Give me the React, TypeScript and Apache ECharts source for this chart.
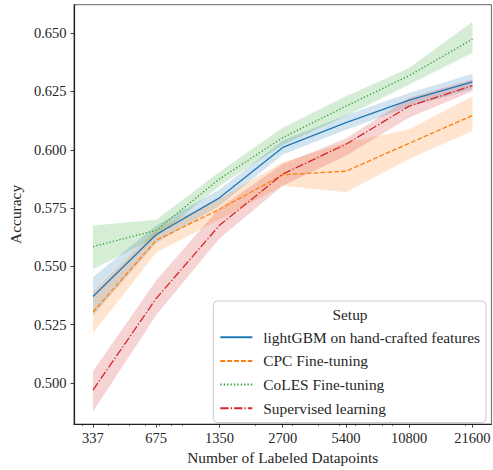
import React, { useEffect, useRef } from "react";
import * as echarts from "echarts";

const datapoints = [337.5, 675, 1350, 2700, 5400, 10800, 21600];
const tickLabels = ["337", "675", "1350", "2700", "5400", "10800", "21600"];
const minorTickValues = [300, 400, 500, 600, 700, 800, 900, 2000, 3000, 4000, 5000, 6000, 7000, 8000, 9000, 20000];
const yTickValues = [0.5, 0.525, 0.55, 0.575, 0.6, 0.625, 0.65];

const seriesNames = [
  "lightGBM on hand-crafted features",
  "CPC Fine-tuning",
  "CoLES Fine-tuning",
  "Supervised learning",
];

const lightgbmMean = [0.5371, 0.5637, 0.5794, 0.601, 0.6116, 0.6213, 0.6291];
const lightgbmUpper = [0.5455, 0.5675, 0.5830, 0.6040, 0.6148, 0.6243, 0.6326];
const lightgbmLower = [0.5290, 0.5600, 0.5760, 0.5980, 0.6086, 0.6185, 0.6260];

const cpcMean = [0.5304, 0.5612, 0.5745, 0.5893, 0.5908, 0.6028, 0.6147];
const cpcUpper = [0.5390, 0.5660, 0.5790, 0.5947, 0.6030, 0.6088, 0.6230];
const cpcLower = [0.5214, 0.5560, 0.5700, 0.5846, 0.5818, 0.5960, 0.6081];

const colesMean = [0.5585, 0.5655, 0.5875, 0.6052, 0.6187, 0.6318, 0.6474];
const colesUpper = [0.5675, 0.5700, 0.5905, 0.6095, 0.6230, 0.6351, 0.6549];
const colesLower = [0.5488, 0.5625, 0.5845, 0.6020, 0.6145, 0.6280, 0.6415];

const supMean = [0.497, 0.5363, 0.5676, 0.5896, 0.6024, 0.6187, 0.6275];
const supUpper = [0.5051, 0.5441, 0.5750, 0.5939, 0.6048, 0.6223, 0.6301];
const supLower = [0.4878, 0.5292, 0.5620, 0.5846, 0.5974, 0.6138, 0.6251];

const BASE = 337.5;
const FONT = "Liberation Serif";
const TEXT_COLOR = "#262626";

export default function App() {
  const ref = useRef<HTMLDivElement>(null);

  useEffect(() => {
    document.body.style.margin = "0";
    if (!ref.current) return;
    const chart = echarts.init(ref.current, undefined, { renderer: "svg" });

    const xs = datapoints.map((n) => Math.log2(n / BASE));
    const minorXs = minorTickValues.map((n) => Math.log2(n / BASE));
    const majorXs = datapoints.map((n) => Math.log2(n / BASE));

    const colors = ["#1f77b4", "#ff7f0e", "#2ca02c", "#d62728"];
    const means = [lightgbmMean, cpcMean, colesMean, supMean];
    const uppers = [lightgbmUpper, cpcUpper, colesUpper, supUpper];
    const lowers = [lightgbmLower, cpcLower, colesLower, supLower];
    const lw = 1.3;
    const lineTypes: any[] = [
      "solid",
      [4.8, 2.1],
      [1.3, 2.1],
      [8.3, 2.1, 1.3, 2.1],
    ];

    const bandSeries = colors.map((c, k) => ({
      type: "custom",
      name: "band" + k,
      silent: true,
      z: 1,
      data: [0],
      renderItem: (params: any, api: any) => {
        const up = uppers[k].map((u, i) => api.coord([xs[i], u]));
        const lo = lowers[k].map((l, i) => api.coord([xs[i], l])).reverse();
        return {
          type: "polygon",
          shape: { points: up.concat(lo) },
          style: { fill: c, opacity: 0.2 },
        };
      },
    }));

    const lineSeries = colors.map((c, k) => ({
      type: "line",
      name: seriesNames[k],
      z: 3,
      symbol: "none",
      data: means[k].map((m, i) => [xs[i], m]),
      lineStyle: { color: c, width: lw, type: lineTypes[k] },
      itemStyle: { color: c },
    }));

    const tickText = { fontFamily: FONT, fontSize: 14.5, color: TEXT_COLOR };
    const nameText = { fontFamily: FONT, fontSize: 15.4, color: TEXT_COLOR };

    chart.setOption({
      animation: false,
      grid: {
        left: 61.3,
        top: 4.7,
        width: 433.4,
        height: 422,
        show: true,
        borderColor: "#666",
        borderWidth: 1,
        backgroundColor: "transparent",
      },
      xAxis: [
        {
          type: "value",
          min: -0.3,
          max: 6.3,
          position: "bottom",
          axisLine: { show: true, onZero: false, lineStyle: { color: "#222", width: 1.2 } },
          axisTick: { show: true, customValues: majorXs, length: 3.5, lineStyle: { color: TEXT_COLOR, width: 0.9 } },
          axisLabel: {
            customValues: majorXs,
            formatter: (v: number) => tickLabels[Math.round(v)],
            margin: 6,
            ...tickText,
          },
          splitLine: { show: false },
          name: "Number of Labeled Datapoints",
          nameLocation: "middle",
          nameGap: 20,
          nameTextStyle: nameText,
        },
        {
          type: "value",
          min: -0.3,
          max: 6.3,
          position: "bottom",
          offset: 0,
          axisLine: { show: false },
          axisTick: { show: true, customValues: minorXs, length: 2, lineStyle: { color: TEXT_COLOR, width: 0.7 } },
          axisLabel: { show: false },
          splitLine: { show: false },
        },
      ],
      yAxis: {
        type: "value",
        min: 0.4824,
        max: 0.6622,
        axisLine: { show: true, onZero: false, lineStyle: { color: "#222", width: 1.2 } },
        axisTick: { show: true, customValues: yTickValues, length: 3.5, lineStyle: { color: TEXT_COLOR, width: 0.9 } },
        axisLabel: {
          customValues: yTickValues,
          formatter: (v: number) => v.toFixed(3),
          margin: 7.5,
          ...tickText,
        },
        splitLine: { show: false },
        name: "Accuracy",
        nameLocation: "middle",
        nameRotate: 90,
        nameGap: 43,
        nameTextStyle: nameText,
      },
      legend: {
        data: seriesNames,
        orient: "vertical",
        left: 213.3,
        top: 301,
        itemWidth: 32,
        itemHeight: 14,
        itemGap: 8.7,
        padding: [28.7, 6, 6.7, 6],
        backgroundColor: "rgba(255,255,255,0.8)",
        borderColor: "#cccccc",
        borderWidth: 1,
        borderRadius: 4,
        itemStyle: { opacity: 0 },
        textStyle: { fontFamily: FONT, fontSize: 15.4, color: TEXT_COLOR, lineHeight: 14, padding: [0, 0, 0, 6] },
      },
      graphic: [
        {
          type: "text",
          x: 350,
          y: 314.3,
          z: 100,
          style: {
            text: "Setup",
            fontFamily: FONT,
            fontSize: 15.4,
            fill: TEXT_COLOR,
            textAlign: "center",
            textVerticalAlign: "middle",
          },
        },
      ],
      series: [...bandSeries, ...lineSeries],
    });

    return () => chart.dispose();
  }, []);

  return <div ref={ref} style={{ width: 493, height: 470 }} />;
}
